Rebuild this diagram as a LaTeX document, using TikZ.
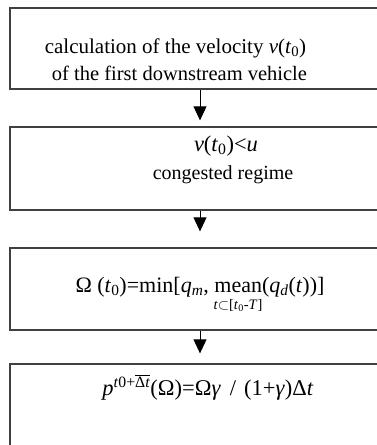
\documentclass[tikz,border=0pt]{standalone}
\usepackage{fontspec}
\setmainfont{Liberation Serif}
\usetikzlibrary{arrows.meta}
\begin{document}
\begin{tikzpicture}[x=1pt,y=-1pt,
  box/.style={draw=black!75,line width=1.3pt,rectangle,inner sep=0pt,minimum width=380pt},
  flow/.style={draw=black,line width=0.9pt,-{Triangle[width=13pt,length=14pt]}},
  txt/.style={font=\fontsize{20.5}{25}\selectfont,anchor=base,inner sep=0pt},
  small/.style={font=\fontsize{14.5}{17}\selectfont,anchor=base,inner sep=0pt}]
\useasboundingbox (0,0) rectangle (377,445);
\clip (0,0) rectangle (377,445);
% flow boxes
\node[box,minimum height=81pt] (b1) at (200,48.5) {};
\node[box,minimum height=83pt] (b2) at (200,168.5) {};
\node[box,minimum height=82pt] (b3) at (200,289) {};
\node[box,minimum height=100pt] (b4) at (200,414) {};
% connectors
\draw[flow,shorten >=6pt] (b1.south) -- (b2.north);
\draw[flow,shorten >=16pt] (b2.south) -- (b3.north);
\draw[flow,shorten >=10pt] (b3.south) -- (b4.north);
% box texts
\node[txt,font=\fontsize{21}{25}\selectfont] (l1a) at (175.5,53) {calculation of the velocity \textit{v}(\textit{t}\textsubscript{0})};
\node[txt] (l1b) at (179.5,80) {of the first downstream vehicle};
\node[txt,font=\fontsize{22.5}{26}\selectfont] (l2a) at (226,151) {\textit{v}(\textit{t}\textsubscript{0})<\textit{u}};
\node[txt,font=\fontsize{20}{24}\selectfont] (l2b) at (223,179) {congested regime};
\node[txt,font=\fontsize{22}{26}\selectfont] (l3a) at (200,292) {Ω (\textit{t}\textsubscript{0})=min[\textit{q}\textsubscript{\textit{m}}, mean(\textit{q}\textsubscript{\textit{d}}(\textit{t}))]};
\node[small] (l3b) at (238,309.5) {\textit{t}$\subset$[\textit{t}\textsubscript{0}-\textit{T}]};
\node[txt,font=\fontsize{22.5}{27}\selectfont] (l4a) at (208,395) {\textit{p}\textsuperscript{\textit{t}0+$\overline{\hbox{Δ\textit{t}}}$}(Ω)=Ω\textit{γ}\hspace{0.15em} / \hspace{0.1em}(1+\textit{γ})Δ\textit{t}};
\end{tikzpicture}
\end{document}
